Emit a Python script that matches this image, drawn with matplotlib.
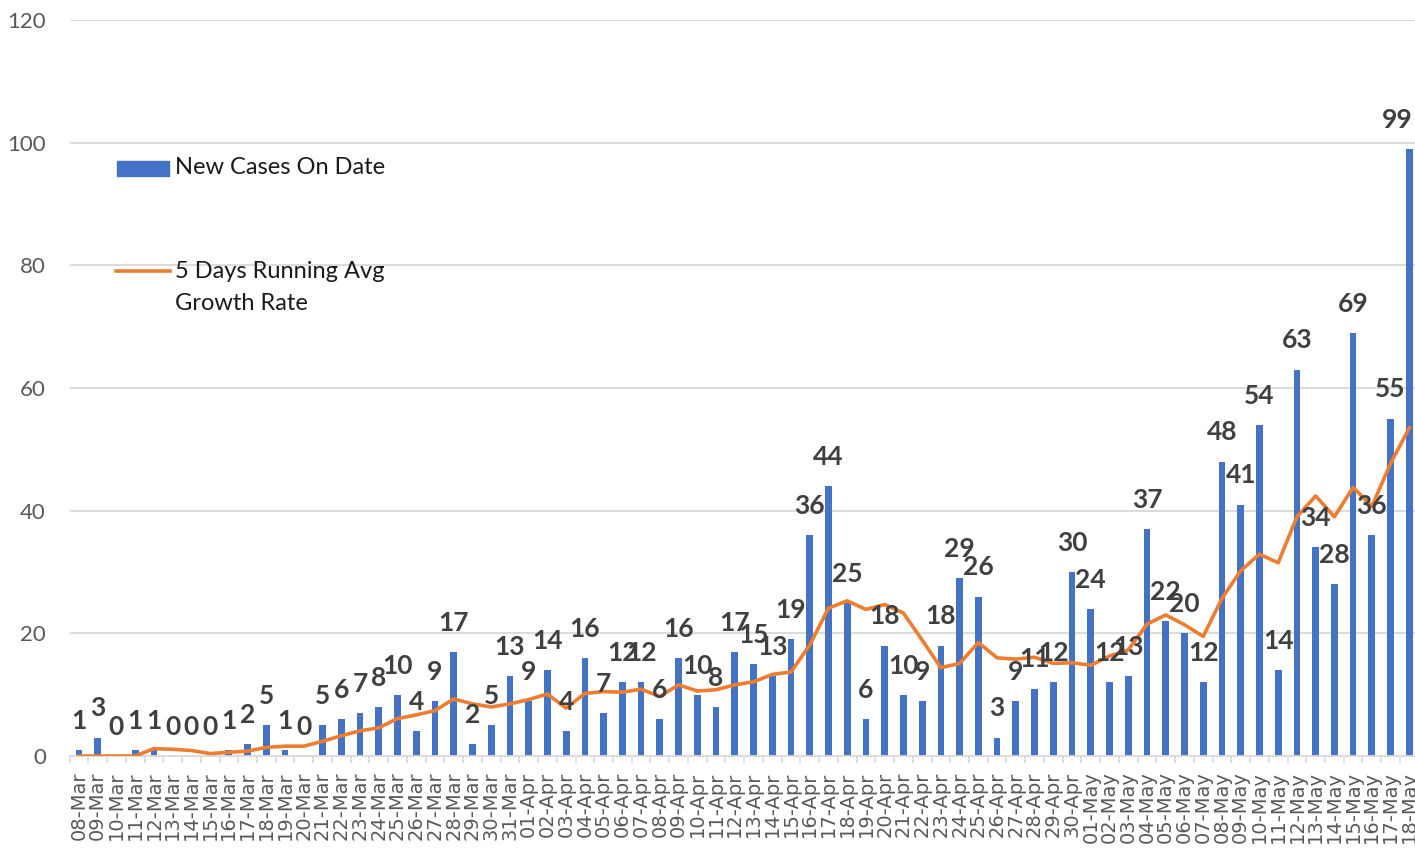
import numpy as np
import matplotlib
matplotlib.use("Agg")
import matplotlib.pyplot as plt
from matplotlib.patches import Rectangle
from matplotlib.lines import Line2D

# --------------------------------------------------
# data
# --------------------------------------------------
dates = [
    "08-Mar", "09-Mar", "10-Mar", "11-Mar", "12-Mar", "13-Mar", "14-Mar", "15-Mar",
    "16-Mar", "17-Mar", "18-Mar", "19-Mar", "20-Mar", "21-Mar", "22-Mar", "23-Mar",
    "24-Mar", "25-Mar", "26-Mar", "27-Mar", "28-Mar", "29-Mar", "30-Mar", "31-Mar",
    "01-Apr", "02-Apr", "03-Apr", "04-Apr", "05-Apr", "06-Apr", "07-Apr", "08-Apr",
    "09-Apr", "10-Apr", "11-Apr", "12-Apr", "13-Apr", "14-Apr", "15-Apr", "16-Apr",
    "17-Apr", "18-Apr", "19-Apr", "20-Apr", "21-Apr", "22-Apr", "23-Apr", "24-Apr",
    "25-Apr", "26-Apr", "27-Apr", "28-Apr", "29-Apr", "30-Apr",
    "01-May", "02-May", "03-May", "04-May", "05-May", "06-May", "07-May", "08-May",
    "09-May", "10-May", "11-May", "12-May", "13-May", "14-May", "15-May", "16-May",
    "17-May", "18-May",
]

new_cases = [
    1, 3, 0, 1, 1, 0, 0, 0, 1, 2, 5, 1, 0, 5, 6, 7, 8, 10, 4, 9, 17, 2, 5, 13,
    9, 14, 4, 16, 7, 12, 12, 6, 16, 10, 8, 17, 15, 13, 19, 36, 44, 25, 6, 18, 10,
    9, 18, 29, 26, 3, 9, 11, 12, 30,
    24, 12, 13, 37, 22, 20, 12, 48, 41, 54, 14, 63, 34, 28, 69, 36, 55, 99,
]

running_avg = [
    0.0, 0.0, 0.0, 0.0, 1.2, 1.1, 0.9, 0.4, 0.6, 0.8, 1.4, 1.6, 1.6, 2.4, 3.3, 4.1,
    4.6, 6.1, 6.7, 7.4, 9.3, 8.5, 8.0, 8.5,
    9.2, 10.1, 7.8, 10.2, 10.5, 10.4, 10.9, 9.7, 11.6, 10.6, 10.8, 11.6, 12.1,
    13.3, 13.7, 18.1, 24.1, 25.3, 23.9, 24.7, 23.3, 18.9, 14.4, 15.1, 18.5, 16.0,
    15.8, 16.1, 15.1, 15.2,
    14.8, 16.3, 17.3, 21.5, 23.0, 21.4, 19.5, 25.7, 30.2, 32.9, 31.5, 39.0, 42.4,
    39.0, 43.8, 40.7, 47.7, 53.5,
]

BLUE = "#4472C4"
ORANGE = "#ED7D31"
GRID = "#D9D9D9"
TICK = "#595959"
LABEL = "#404040"

W, H = 1415, 855
plt.rcParams["font.family"] = ["Lato", "DejaVu Sans"]

fig = plt.figure(figsize=(W / 100, H / 100), dpi=100)
# plot area in pixels: x 69.6 .. 1418.7, y 20 .. 756
left, right, top, bottom = 69.6, 1418.7, 20, 756
ax = fig.add_axes([left / W, 1 - bottom / H, (right - left) / W, (bottom - top) / H])

x = np.arange(len(dates))
ax.bar(x, new_cases, width=0.36, color=BLUE, zorder=2)
ax.plot(x, running_avg, color=ORANGE, lw=2.6, solid_joinstyle="round", zorder=3)

n = len(dates)
for xi, v in zip(x, new_cases):
    # the last label is pushed inside the chart area, as Excel does
    dx = -9 if xi == n - 1 else 0
    ax.annotate(str(v), (xi, v), xytext=(dx, 21), textcoords="offset points",
                ha="center", va="center", fontsize=19, fontweight="bold",
                color=LABEL, zorder=4, annotation_clip=False)

ax.set_xlim(-0.5, n - 0.5)
ax.set_ylim(0, 120)
ax.set_yticks(np.arange(0, 121, 20))
ax.yaxis.grid(True, color=GRID, lw=1.3, zorder=0)
ax.set_axisbelow(True)

for s in ["left", "right", "top"]:
    ax.spines[s].set_visible(False)
ax.spines["bottom"].set_color(GRID)
ax.spines["bottom"].set_linewidth(1.3)

ax.tick_params(axis="y", length=0, pad=17, labelsize=16, labelcolor=TICK)
ax.set_xticks(x)
ax.set_xticklabels(dates, rotation=90, fontsize=14, color=TICK,
                   family="DejaVu Sans")
ax.tick_params(axis="x", which="major", length=0, pad=11)
ax.set_xticks(np.arange(-0.5, n, 1), minor=True)
ax.tick_params(axis="x", which="minor", length=5, color=GRID, width=1.2)

# legend, drawn at its place in the upper left corner
def fx(px):
    return px / W


def fy(py):
    return 1 - py / H


fig.patches.append(Rectangle((fx(117), fy(176)), fx(169) - fx(117), fy(161) - fy(176),
                             transform=fig.transFigure, color=BLUE))
fig.lines.append(Line2D([fx(116), fx(170)], [fy(271), fy(271)],
                        transform=fig.transFigure, color=ORANGE, lw=2.6))
fig.text(fx(175), fy(168), "New Cases On Date", fontsize=17, color="#1A1A1A",
         ha="left", va="center")
fig.text(fx(175), fy(271), "5 Days Running Avg", fontsize=17, color="#1A1A1A",
         ha="left", va="center")
fig.text(fx(175), fy(303), "Growth Rate", fontsize=17, color="#1A1A1A",
         ha="left", va="center")

fig.savefig("out.png", dpi=100)
